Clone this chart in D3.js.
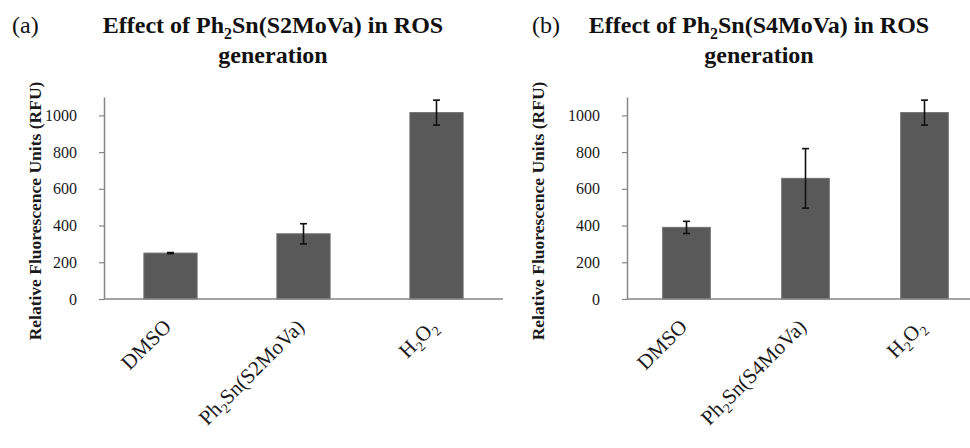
<!DOCTYPE html>
<html>
<head>
<meta charset="utf-8">
<script src="https://cdn.jsdelivr.net/npm/d3@7"></script>
<style>
  body { margin: 0; background: #fff; }
  svg { display: block; font-family: "Liberation Serif", "Times New Roman", serif; }
</style>
</head>
<body>
<script>
// "_2" marks a subscript digit
var categoriesA = ["DMSO", "Ph_2Sn(S2MoVa)", "H_2O_2"];
var meansA = [250, 355, 1015];
var errorsA = [3, 55, 68];

var categoriesB = ["DMSO", "Ph_2Sn(S4MoVa)", "H_2O_2"];
var meansB = [390, 657, 1015];
var errorsB = [33, 162, 68];

var yTicks = [0, 200, 400, 600, 800, 1000];
var yMax = 1100;

var titlesA = ["Effect of Ph_2Sn(S2MoVa) in ROS", "generation"];
var titlesB = ["Effect of Ph_2Sn(S4MoVa) in ROS", "generation"];
var yLabel = "Relative Fluorescence Units (RFU)";

var width = 970, height = 448;
var baseY = 299, topY = 97;
var serif = "'Liberation Serif', 'Times New Roman', serif";

var svg = d3.select("body").append("svg")
    .attr("width", width)
    .attr("height", height);

// writes a string with _n subscripts into a text element
function richText(sel, str, size) {
    var parts = str.split(/_(\d)/);
    var prevSub = false;
    parts.forEach(function(p, i){
        if (p === "") return;
        var sub = (i % 2 == 1);
        var dy = 0;
        if (sub && !prevSub) dy = size * 0.24;
        if (!sub && prevSub) dy = -size * 0.24;
        sel.append("tspan")
            .attr("dy", dy)
            .style("font-size", (sub ? size * 0.66 : size) + "px")
            .text(p);
        prevSub = sub;
    });
}

function drawPanel(cfg) {
    var g = svg.append("g");

    var x = d3.scaleBand()
        .domain(cfg.categories)
        .range([cfg.x0, cfg.x1])
        .paddingInner(0.6)
        .paddingOuter(0.3);

    var y = d3.scaleLinear()
        .domain([0, yMax])
        .range([baseY, topY]);

    // y axis
    var yAxis = d3.axisLeft(y)
        .tickValues(yTicks)
        .tickFormat(d3.format("d"))
        .tickSize(5).tickPadding(22).tickSizeOuter(0);
    var ga = g.append("g")
        .attr("transform", "translate(" + cfg.x0 + ",0)")
        .call(yAxis);
    ga.attr("font-family", serif).attr("font-size", 16);
    ga.select(".domain").attr("stroke", "#868686").attr("stroke-width", 1.5);
    ga.selectAll(".tick line").attr("stroke", "#868686").attr("stroke-width", 1.2);
    ga.selectAll(".tick text").attr("fill", "#1a1a1a");

    // bars
    g.selectAll("rect.bar").data(cfg.means).enter().append("rect")
        .attr("class", "bar")
        .attr("x", function(d, i){ return x(cfg.categories[i]); })
        .attr("y", function(d){ return y(d); })
        .attr("width", x.bandwidth())
        .attr("height", function(d){ return baseY - y(d); })
        .attr("fill", "#595959")
        .attr("stroke", "#6e6e6e")
        .attr("stroke-width", 1);

    // x axis line
    g.append("line")
        .attr("x1", cfg.x0).attr("x2", cfg.x1)
        .attr("y1", baseY).attr("y2", baseY)
        .attr("stroke", "#868686")
        .attr("stroke-width", 1.5);

    // error bars
    var cap = 3.5;
    cfg.means.forEach(function(m, i){
        var cx = x(cfg.categories[i]) + x.bandwidth() / 2;
        var lo = y(m - cfg.errors[i]), hi = y(m + cfg.errors[i]);
        var eb = g.append("g").attr("stroke", "#111").attr("stroke-width", 1.6);
        eb.append("line").attr("x1", cx).attr("x2", cx).attr("y1", lo).attr("y2", hi);
        eb.append("line").attr("x1", cx - cap).attr("x2", cx + cap).attr("y1", lo).attr("y2", lo);
        eb.append("line").attr("x1", cx - cap).attr("x2", cx + cap).attr("y1", hi).attr("y2", hi);
    });

    // category labels, rotated
    cfg.categories.forEach(function(c){
        var cx = x(c) + x.bandwidth() / 2;
        var t = g.append("text")
            .attr("transform", "translate(" + (cx + 2) + "," + (baseY + 29) + ") rotate(-45)")
            .attr("text-anchor", "end")
            .attr("fill", "#1a1a1a");
        richText(t, c, 21);
    });

    // y label
    g.append("text")
        .attr("transform", "translate(" + cfg.yLabelX + "," + 211 + ") rotate(-90)")
        .attr("text-anchor", "middle")
        .attr("font-weight", "bold")
        .attr("fill", "#1a1a1a")
        .style("font-size", "17.5px")
        .text(yLabel);

    // panel letter
    g.append("text")
        .attr("x", cfg.letterX).attr("y", 33)
        .attr("fill", "#111")
        .style("font-size", "24px")
        .text(cfg.letter);

    // title
    cfg.titles.forEach(function(line, i){
        var t = g.append("text")
            .attr("x", cfg.titleX).attr("y", 33 + i * 30)
            .attr("text-anchor", "middle")
            .attr("font-weight", "bold")
            .attr("fill", "#111");
        richText(t, line, 24);
    });
}

drawPanel({
    categories: categoriesA, means: meansA, errors: errorsA, titles: titlesA,
    x0: 104, x1: 503, yLabelX: 41, letter: "(a)", letterX: 12, titleX: 273
});

drawPanel({
    categories: categoriesB, means: meansB, errors: errorsB, titles: titlesB,
    x0: 627, x1: 984, yLabelX: 544, letter: "(b)", letterX: 532, titleX: 759
});
</script>
</body>
</html>
